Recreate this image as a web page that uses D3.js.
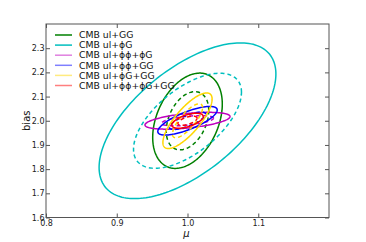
<!DOCTYPE html>
<html>
<head>
<meta charset="utf-8">
<script src="https://cdn.jsdelivr.net/npm/d3@7"></script>
<style>
  body { margin: 0; background: #fff; }
  svg { display: block; font-family: "DejaVu Sans", sans-serif; }
</style>
</head>
<body>
<svg id="chart" width="366" height="242"></svg>
<script>
// data: fiducial point, 1-sigma errors and correlation per probe combination
const names = ["CMB ul+GG", "CMB ul+\u03d5G", "CMB ul+\u03d5\u03d5+\u03d5G",
  "CMB ul+\u03d5\u03d5+GG", "CMB ul+\u03d5G+GG", "CMB ul+\u03d5\u03d5+\u03d5G+GG"];
const colors = ["#008000", "#00bfbf", "#bf00bf", "#0000ff", "#ffd700", "#ff0000"];
const legendAlpha = [1, 1, 0.5, 0.5, 0.5, 0.5];
const sigmaMu = [0.0198, 0.0503, 0.0242, 0.0169, 0.0140, 0.0089];
const sigmaBias = [0.0793, 0.1296, 0.0140, 0.0238, 0.0463, 0.0125];
const rho = [0.35, 0.6, 0.5, 0.75, 0.78, 0.57];
const fiducial = [1.0, 2.0];
// delta chi^2 for 1 and 2 sigma contours (2 params)
const levels = [2.30, 6.17];

const xTicks = [0.8, 0.9, 1.0, 1.1];
const yTicks = [1.6, 1.7, 1.8, 1.9, 2.0, 2.1, 2.2, 2.3];

const margin = {left: 46, top: 24, right: 37, bottom: 24.5};
const W = 366, H = 242;
const w = W - margin.left - margin.right;
const h = H - margin.top - margin.bottom;

const svg = d3.select("#chart");
const g = svg.append("g").attr("transform", `translate(${margin.left},${margin.top})`);

const x = d3.scaleLinear().domain([0.8, 1.2]).range([0, w]);
const y = d3.scaleLinear().domain([1.6, 2.4]).range([h, 0]);

g.append("clipPath").attr("id", "clip")
  .append("rect").attr("width", w).attr("height", h);

function ellipse(i, k) {
  const pts = d3.range(0, 361, 2).map(d => {
    const t = d * Math.PI / 180;
    const s = Math.sqrt(k);
    const mu = fiducial[0] + s * sigmaMu[i] * Math.cos(t);
    const b = fiducial[1] + s * sigmaBias[i] * (rho[i] * Math.cos(t) + Math.sqrt(1 - rho[i] * rho[i]) * Math.sin(t));
    return [mu, b];
  });
  return pts;
}

const line = d3.line().x(d => x(d[0])).y(d => y(d[1]));
const plot = g.append("g").attr("clip-path", "url(#clip)");

names.forEach((n, i) => {
  // 2 sigma solid
  plot.append("path")
    .attr("d", line(ellipse(i, levels[1])))
    .attr("fill", "none")
    .attr("stroke", colors[i])
    .attr("stroke-width", 1.5);
  // 1 sigma dashed
  plot.append("path")
    .attr("d", line(ellipse(i, levels[0])))
    .attr("fill", "none")
    .attr("stroke", colors[i])
    .attr("stroke-width", 1.5)
    .attr("stroke-dasharray", "4,3");
});

// frame
g.append("rect")
  .attr("width", w).attr("height", h)
  .attr("fill", "none").attr("stroke", "#555").attr("stroke-width", 1);

// axes, ticks pointing inwards
const axB = g.append("g").attr("transform", `translate(0,${h})`)
  .call(d3.axisBottom(x).tickValues(xTicks).tickSizeInner(-4).tickSizeOuter(0).tickPadding(3).tickFormat(d3.format(".1f")));
const axT = g.append("g")
  .call(d3.axisTop(x).tickValues(xTicks).tickSizeInner(-4).tickSizeOuter(0).tickFormat(""));
const axL = g.append("g")
  .call(d3.axisLeft(y).tickValues(yTicks).tickSizeInner(-4).tickSizeOuter(0).tickPadding(1.5).tickFormat(d3.format(".1f")));
const axR = g.append("g").attr("transform", `translate(${w},0)`)
  .call(d3.axisRight(y).tickValues(yTicks).tickSizeInner(-4).tickSizeOuter(0).tickFormat(""));

[axB, axT, axL, axR].forEach(a => {
  a.select(".domain").remove();
  a.selectAll("line").attr("stroke", "#555");
  a.selectAll("text").attr("font-size", 8).attr("fill", "#222").attr("font-family", "DejaVu Sans");
});

// axis labels
svg.append("text")
  .attr("transform", `translate(30,${margin.top + h / 2}) rotate(-90)`)
  .attr("text-anchor", "middle")
  .attr("font-size", 10).attr("fill", "#111")
  .text("bias");
svg.append("text")
  .attr("x", margin.left + x(1.0) - 1).attr("y", 237)
  .attr("text-anchor", "middle")
  .attr("font-size", 10).attr("font-style", "italic").attr("fill", "#111")
  .text("\u03bc");

// legend
const leg = svg.append("g");
names.forEach((n, i) => {
  const ly = 35 + i * 10.1;
  leg.append("line")
    .attr("x1", 55).attr("x2", 72).attr("y1", ly).attr("y2", ly)
    .attr("stroke", colors[i]).attr("stroke-width", 1.5)
    .attr("stroke-opacity", legendAlpha[i]);
  leg.append("text")
    .attr("x", 79).attr("y", ly).attr("dy", "0.35em")
    .attr("font-size", 9.3).attr("fill", "#111")
    .text(n);
});
</script>
</body>
</html>
